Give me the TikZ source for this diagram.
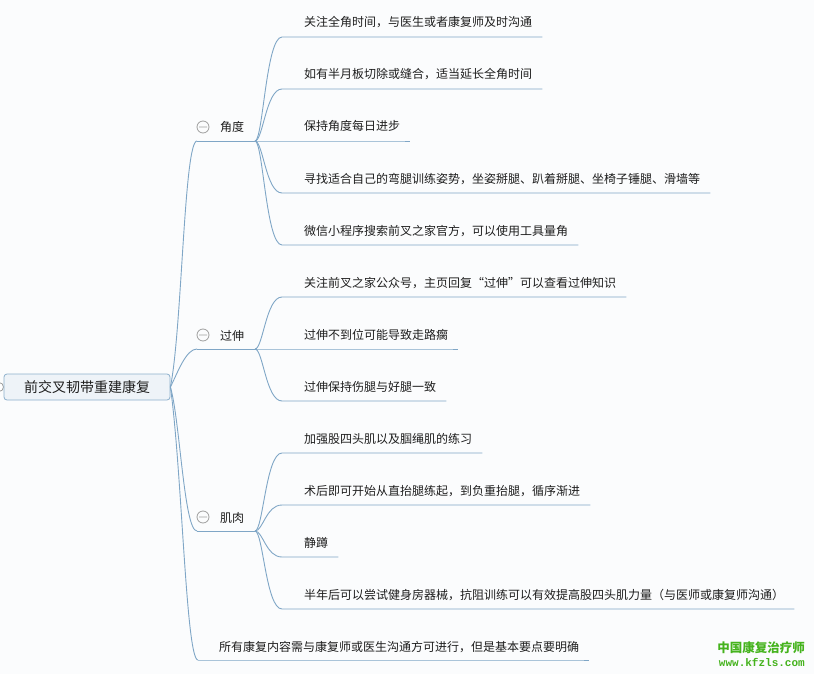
\documentclass[tikz,border=0pt]{standalone}
\usepackage{fontspec}
\setmainfont{Noto Sans CJK SC}
\newfontfamily\wmfont{Liberation Mono}
\usetikzlibrary{positioning}
\definecolor{lineblue}{HTML}{7FA6C6}
\definecolor{rootfill}{HTML}{EEF3F8}
\definecolor{rootline}{HTML}{8DB0CC}
\definecolor{wmgreen}{HTML}{45B31D}
\definecolor{bgcol}{HTML}{FBFCFD}
\definecolor{txt}{HTML}{1E1E1E}
\tikzset{
  branch/.style={draw=lineblue, line width=0.9pt},
  leaf/.style={anchor=base west, inner sep=0pt, font=\fontsize{12}{14}\selectfont, text=txt},
  fold/.style={draw=gray!75, line width=0.8pt},
  rootbox/.style={draw=rootline, fill=rootfill, rounded corners=3pt, minimum width=166pt, minimum height=26pt, inner sep=0pt, font=\fontsize{14}{16}\selectfont, text=txt, line width=0.8pt}
}

\begin{document}
\begin{tikzpicture}[x=1pt, y=-1pt]
\fill[bgcol] (0,0) rectangle (814,674);
\useasboundingbox (0,0) rectangle (814,674);
\clip (0,0) rectangle (814,674);
\draw[fold, fill=white] (-1,387) circle (4.5);
\node[rootbox] (root) at (87,387) {前交叉韧带重建康复};

% main branches
\foreach \n/\y/\t in {jd/141/角度, gs/349/过伸, jr/531/肌肉} {
  \node[leaf] (\n) at (220,\y-9) {\t};
  \coordinate (\n-a) at (197,\y);
  \coordinate (\n-b) at (255,\y);
  \draw[fold] (203,\y-14) circle (6) ++(-4,0) -- ++(8,0);
  \draw[branch] (\n-a) -- (\n-b);
}
\node[leaf] (ms) at (219,651) {所有康复内容需与康复师或医生沟通方可进行，但是基本要点要明确};
\coordinate (ms-a) at (198,660);
\draw[branch] (ms-a) -- (ms-a -| ms.base east) -- ++(10,0);

\draw[branch] (root.east) .. controls (182,330) and (184,141) .. (jd-a);
\draw[branch] (root.east) .. controls (178,372) and (186,349) .. (gs-a);
\draw[branch] (root.east) .. controls (180,420) and (184,531) .. (jr-a);
\draw[branch] (root.east) .. controls (182,470) and (186,660) .. (ms-a);

% leaves
\foreach \p/\n/\y/\t in {
  jd/a1/37/{关注全角时间，与医生或者康复师及时沟通},
  jd/a2/89/{如有半月板切除或缝合，适当延长全角时间},
  jd/a3/141/{保持角度每日进步},
  jd/a4/193/{寻找适合自己的弯腿训练姿势，坐姿掰腿、趴着掰腿、坐椅子锤腿、滑墙等},
  jd/a5/245/{微信小程序搜索前叉之家官方，可以使用工具量角},
  gs/b1/297/{关注前叉之家公众号，主页回复“过伸”可以查看过伸知识},
  gs/b2/349/{过伸不到位可能导致走路瘸},
  gs/b3/401/{过伸保持伤腿与好腿一致},
  jr/c1/453/{加强股四头肌以及腘绳肌的练习},
  jr/c2/505/{术后即可开始从直抬腿练起，到负重抬腿，循序渐进},
  jr/c3/557/{静蹲},
  jr/c4/609/{半年后可以尝试健身房器械，抗阻训练可以有效提高股四头肌力量（与医师或康复师沟通）}} {
  \node[leaf] (\n) at (304,\y-10) {\t};
  \coordinate (\n-u) at (282,\y);
  \draw[branch] (\p-b) .. controls +(8,0) and +(-16,0) .. (\n-u) -- (\n-u -| \n.base east) -- ++(10,0);
}

\node[anchor=base east, inner sep=0pt, text=wmgreen, font=\fontsize{12.5}{14}\selectfont\bfseries] (wm1) at (805,652) {中国康复治疗师};
\node[anchor=base east, inner sep=0pt, text=wmgreen, font=\wmfont\bfseries\fontsize{11}{13}\selectfont] (wm2) at (805,666) {www.kfzls.com};
\end{tikzpicture}
\end{document}
